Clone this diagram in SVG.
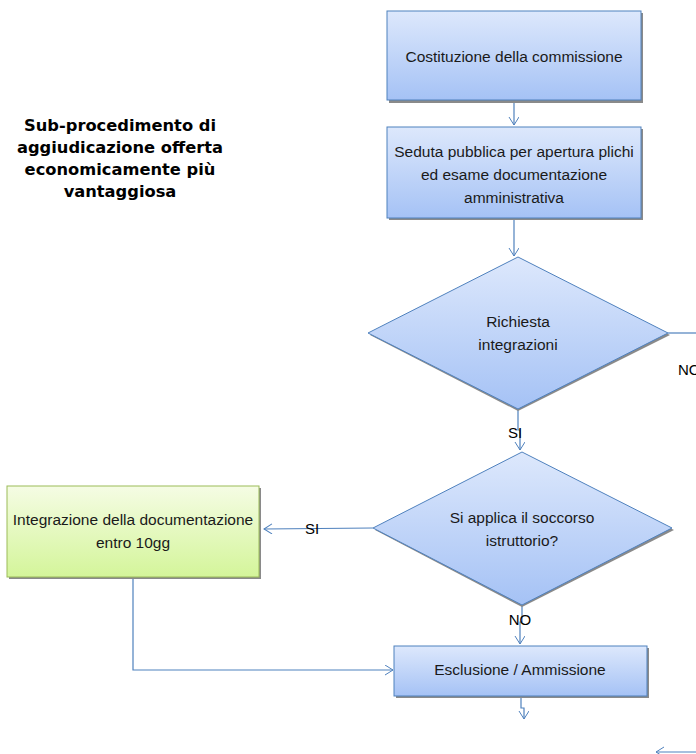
<svg xmlns="http://www.w3.org/2000/svg" width="696" height="754" viewBox="0 0 696 754">
<defs>
<linearGradient id="gBlue" x1="0" y1="0" x2="0" y2="1">
<stop offset="0" stop-color="#dde8fc"/>
<stop offset="1" stop-color="#a5c2f5"/>
</linearGradient>
<linearGradient id="gGreen" x1="0" y1="0" x2="0" y2="1">
<stop offset="0" stop-color="#f5fce4"/>
<stop offset="1" stop-color="#d4f59a"/>
</linearGradient>
<marker id="arr" markerWidth="12" markerHeight="12" refX="9" refY="5" orient="auto" markerUnits="userSpaceOnUse">
<path d="M1,0 L9,5 L1,10" fill="none" stroke="#4f81bd" stroke-width="1"/>
</marker>
<style>
.t{font-family:"Liberation Sans",Arial,sans-serif;font-size:15.5px;fill:#1a1a1a;text-anchor:middle}
.lbl{font-family:"Liberation Sans",Arial,sans-serif;font-size:15px;fill:#000}
.title{font-family:"DejaVu Sans",Verdana,sans-serif;font-weight:bold;font-size:16.3px;fill:#000;text-anchor:middle}
.blue{fill:url(#gBlue);stroke:#4f81bd;stroke-width:1}
.green{fill:url(#gGreen);stroke:#9bbb59;stroke-width:1}
.sh{fill:#8a8a8a}
.c{fill:none;stroke:#4f81bd;stroke-width:1.2}
</style>
</defs>
<rect width="696" height="754" fill="#ffffff"/>

<g id="title">
<text class="title" x="120" y="131">Sub-procedimento di</text>
<text class="title" x="120" y="153">aggiudicazione offerta</text>
<text class="title" x="120" y="175">economicamente più</text>
<text class="title" x="120" y="197">vantaggiosa</text>
</g>

<g id="connectors">
<path class="c" d="M514,101 L514,125" marker-end="url(#arr)"/>
<path class="c" d="M514,218 L514,256" marker-end="url(#arr)"/>
<path class="c" d="M668,333 L696,333"/>
<path class="c" d="M518,409 L518,430 L520,430 L520,450" marker-end="url(#arr)"/>
<path class="c" d="M373,528 L264,529" marker-end="url(#arr)"/>
<path class="c" d="M522,605 L522,622 L520,622 L520,644" marker-end="url(#arr)"/>
<path class="c" d="M133,577 L133,670 L393,670" marker-end="url(#arr)"/>
<path class="c" d="M521,696 L521,708 L524,708 L524,719" marker-end="url(#arr)"/>
<path class="c" d="M696,752 L656,752" marker-end="url(#arr)"/>
<text class="lbl" x="515" y="438" text-anchor="middle">SI</text>
<text class="lbl" x="678" y="375">NO</text>
<text class="lbl" x="312" y="534" text-anchor="middle">SI</text>
<text class="lbl" x="520" y="625" text-anchor="middle">NO</text>
</g>

<g id="n1">
<rect class="sh" x="389" y="13" width="254" height="90"/>
<rect class="blue" x="387" y="11" width="254" height="89"/>
<text class="t" x="514" y="62">Costituzione della commissione</text>
</g>

<g id="n2">
<rect class="sh" x="389" y="129" width="254" height="91"/>
<rect class="blue" x="387" y="127" width="254" height="91"/>
<text class="t" x="514" y="157">Seduta pubblica per apertura plichi</text>
<text class="t" x="514" y="180">ed esame documentazione</text>
<text class="t" x="514" y="203">amministrativa</text>
</g>

<g id="d1">
<polygon class="sh" points="518,259 670,335 518,411 370,335"/>
<polygon class="blue" points="518,257 668,333 518,409 368,333"/>
<text class="t" x="518" y="327">Richiesta</text>
<text class="t" x="518" y="350">integrazioni</text>
</g>

<g id="d2">
<polygon class="sh" points="522,454 674,530 522,607 375,530"/>
<polygon class="blue" points="522,452 672,528 522,605 373,528"/>
<text class="t" x="522" y="523">Si applica il soccorso</text>
<text class="t" x="522" y="546">istruttorio?</text>
</g>

<g id="n3">
<rect class="sh" x="9" y="488" width="252" height="91"/>
<rect class="green" x="7" y="486" width="252" height="91"/>
<text class="t" x="133" y="525">Integrazione della documentazione</text>
<text class="t" x="133" y="548">entro 10gg</text>
</g>

<g id="n4">
<rect class="sh" x="396" y="648" width="253" height="50"/>
<rect class="blue" x="394" y="646" width="253" height="50"/>
<text class="t" x="520" y="675">Esclusione / Ammissione</text>
</g>
</svg>
